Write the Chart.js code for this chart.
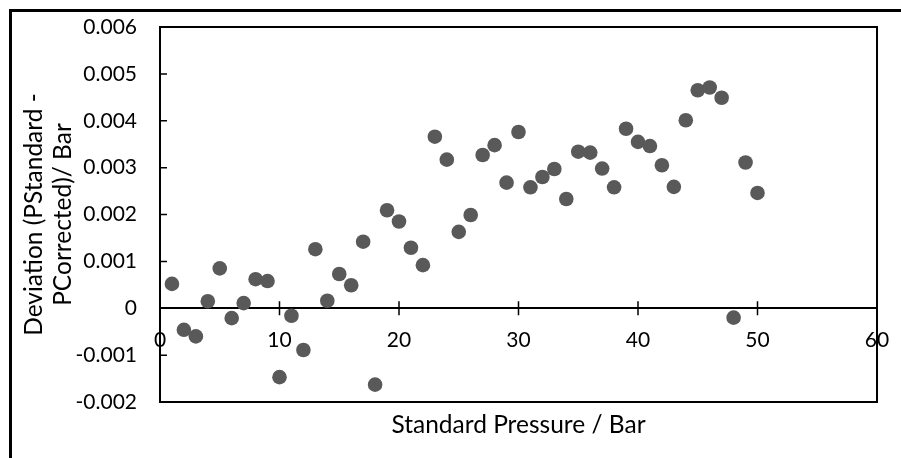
<!DOCTYPE html>
<html>
<head>
<meta charset="utf-8">
<script src="https://cdn.jsdelivr.net/npm/chart.js@4.4.0/dist/chart.umd.min.js"></script>
<style>
  html, body { margin: 0; padding: 0; background: #fff; }
  #wrap { width: 901px; height: 458px; }
</style>
</head>
<body>
<div id="wrap"><canvas id="chart" width="901" height="458"></canvas></div>
<script>
// standard pressure (bar) and deviation
const pressure = [1, 2, 3, 4, 5, 6, 7, 8, 9, 10,
  11, 12, 13, 14, 15, 16, 17, 18, 19, 20,
  21, 22, 23, 24, 25, 26, 27, 28, 29, 30,
  31, 32, 33, 34, 35, 36, 37, 38, 39, 40,
  41, 42, 43, 44, 45, 46, 47, 48, 49, 50];
const deviation = [0.00052, -0.00046, -0.00060, 0.00015, 0.00085, -0.00021, 0.00011, 0.00062, 0.00058, -0.00147,
  -0.00016, -0.00089, 0.00126, 0.00016, 0.00073, 0.00049, 0.00142, -0.00163, 0.00209, 0.00185,
  0.00129, 0.00092, 0.00366, 0.00317, 0.00163, 0.00199, 0.00327, 0.00348, 0.00268, 0.00376,
  0.00258, 0.00280, 0.00297, 0.00233, 0.00334, 0.00332, 0.00298, 0.00258, 0.00383, 0.00355,
  0.00346, 0.00305, 0.00259, 0.00401, 0.00465, 0.00471, 0.00449, -0.00020, 0.00311, 0.00246];

const xTitle = "Standard Pressure / Bar";
const yTitle = ["Deviation (PStandard -", "PCorrected)/ Bar"];

const fontFamily = "Lato, 'Open Sans', sans-serif";

// frame, plot box and the little tick marks Excel draws inside / across the axis
const framePlugin = {
  id: "frame",
  beforeDraw(chart) {
    const ctx = chart.ctx;
    ctx.save();
    ctx.strokeStyle = "#000";
    ctx.lineWidth = 3;
    ctx.strokeRect(10.5, 10.5, 1000, 1000);
    ctx.restore();
  },
  afterDraw(chart) {
    const { ctx, chartArea: a, scales } = chart;
    const xs = scales.x, ys = scales.y;
    ctx.save();
    ctx.strokeStyle = "#000";
    ctx.lineWidth = 2;
    ctx.strokeRect(a.left, a.top, a.right - a.left, a.bottom - a.top);
    ctx.lineWidth = 1.5;
    ctx.beginPath();
    ys.ticks.forEach(t => {
      const py = ys.getPixelForValue(t.value);
      ctx.moveTo(a.left, py);
      ctx.lineTo(a.left + 7, py);
    });
    const y0 = ys.getPixelForValue(0);
    xs.ticks.forEach(t => {
      const px = xs.getPixelForValue(t.value);
      ctx.moveTo(px, y0 - 7);
      ctx.lineTo(px, y0 + 7);
    });
    ctx.stroke();
    ctx.restore();
  }
};

new Chart(document.getElementById("chart"), {
  type: "scatter",
  data: {
    datasets: [{
      data: pressure.map((p, i) => ({ x: p, y: deviation[i] })),
      backgroundColor: "#595959",
      borderWidth: 0,
      pointRadius: 7.3
    }]
  },
  options: {
    responsive: false,
    animation: false,
    devicePixelRatio: 1,
    layout: { padding: { left: 0, top: 27, right: 24, bottom: 56 } },
    plugins: { legend: { display: false }, tooltip: { enabled: false } },
    scales: {
      x: {
        type: "linear",
        position: { y: 0 },
        min: 0,
        max: 60,
        afterFit(scale) { scale.paddingLeft = 0; scale.paddingRight = 0; },
        grid: { display: false, drawTicks: false },
        border: { display: true, color: "#000", width: 2 },
        ticks: { stepSize: 10, color: "#000", padding: 19, font: { family: fontFamily, size: 21 } },
        title: {
          display: true,
          text: xTitle,
          color: "#000",
          font: { family: fontFamily, size: 24.5 },
          padding: { top: 39, bottom: 0 }
        }
      },
      y: {
        type: "linear",
        min: -0.002,
        max: 0.006,
        grid: { display: false, drawTicks: false },
        border: { display: true, color: "#000", width: 2 },
        afterFit(scale) {
          scale.width = 160;
          scale.paddingTop = 0;
          scale.paddingBottom = 0;
        },
        ticks: {
          stepSize: 0.001,
          color: "#000",
          padding: 23,
          font: { family: fontFamily, size: 21 },
          callback: v => String(Number(v.toFixed(3)))
        },
        title: {
          display: true,
          text: yTitle,
          color: "#000",
          font: { family: fontFamily, size: 24.5, lineHeight: 1.2 },
          padding: { top: 19, bottom: 0 }
        }
      }
    }
  },
  plugins: [framePlugin]
});
</script>
</body>
</html>
